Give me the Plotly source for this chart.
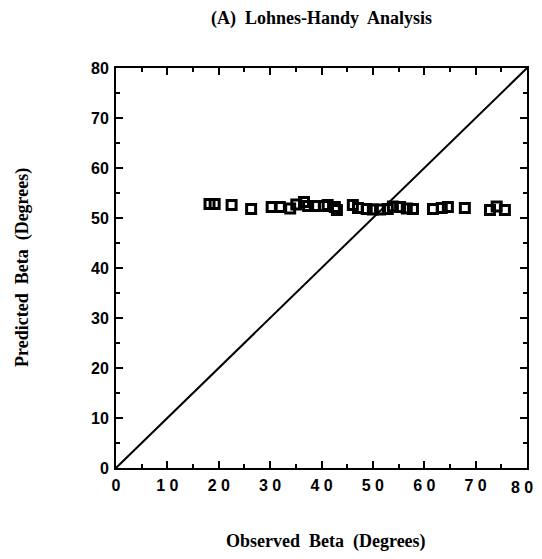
import plotly.graph_objects as go

observed = [18.2, 19.2, 22.5, 26.3, 30.3, 31.9, 33.9, 35.1, 36.6, 37.4, 38.7, 40.5, 41.2,
            42.6, 43.0, 46.1, 47.1, 48.8, 50.0, 51.4, 52.9, 53.9, 55.3, 56.6, 57.8,
            61.7, 63.4, 64.6, 67.9, 72.8, 74.1, 75.7]
predicted = [52.8, 52.8, 52.6, 51.8, 52.2, 52.2, 51.9, 52.7, 53.2, 52.4, 52.4, 52.4, 52.6,
             52.2, 51.6, 52.6, 52.0, 51.8, 51.7, 51.7, 51.8, 52.3, 52.2, 51.9, 51.8,
             51.8, 52.0, 52.2, 52.0, 51.6, 52.3, 51.6]
line_x = [0, 80]
line_y = [0, 80]
ticks = [0, 10, 20, 30, 40, 50, 60, 70, 80]
xtick_text = ["0", "1 0", "2 0", "3 0", "4 0", "5 0", "6 0", "7 0", "8 0"]
ytick_text = ["0", "10", "20", "30", "40", "50", "60", "70", "80"]

fig = go.Figure()
fig.add_trace(go.Scatter(x=line_x, y=line_y, mode="lines",
                         line=dict(color="black", width=2), showlegend=False))
fig.add_trace(go.Scatter(x=observed, y=predicted, mode="markers",
                         marker=dict(symbol="square-open", size=9, color="black",
                                     line=dict(width=3, color="black")),
                         showlegend=False))

TICKFONT = dict(family="Liberation Sans", size=16, color="black")
axis_common = dict(range=[0, 80], showline=True, linecolor="black", linewidth=2,
                   mirror="ticks", ticks="inside", ticklen=7, tickwidth=2, tickcolor="black",
                   showgrid=False, zeroline=False, tickvals=ticks,
                   minor=dict(dtick=5, ticks="inside", ticklen=4, tickwidth=2, tickcolor="black"),
                   tickfont=TICKFONT)

# last x label is drawn as an annotation so it stays inside the page
x_ticktext = [f"<b>{t}</b>" for t in xtick_text[:-1]] + [""]
fig.update_xaxes(**axis_common, ticktext=x_ticktext, ticklabelstandoff=2)
fig.update_yaxes(**axis_common, ticktext=[f"<b>{t}</b>" for t in ytick_text], ticklabelstandoff=2)

OFF = 8  # default page body margin
W, H = 542 - OFF, 559 - OFF
L, T = 116 - OFF, 68 - OFF
PW, PH = 411, 400
R, B = W - L - PW, H - T - PH
fig.update_layout(
    width=W, height=H,
    margin=dict(l=L, r=R, t=T, b=B, autoexpand=False),
    plot_bgcolor="white", paper_bgcolor="white",
)
def px(xs):
    return (xs - OFF - L) / PW
def py(ys):
    return (T + PH - (ys - OFF)) / PH

fig.add_annotation(text=f"<b>{xtick_text[-1]}</b>", x=ticks[-1], xref="x", xanchor="right",
                   xshift=8, y=py(487), yref="paper", yanchor="middle", showarrow=False,
                   font=TICKFONT)

ann = dict(xref="paper", yref="paper", showarrow=False, xanchor="center", yanchor="middle",
           font=dict(family="Liberation Serif", size=18, color="black"))
fig.add_annotation(text="<b>(A)  Lohnes-Handy  Analysis</b>", x=px(321), y=py(19), **ann)
fig.add_annotation(text="<b>Observed  Beta  (Degrees)</b>", x=px(326), y=py(541), **ann)
fig.add_annotation(text="<b>Predicted  Beta  (Degrees)</b>", x=px(22), y=py(268),
                   textangle=-90, **ann)

fig.write_html("out.html")
